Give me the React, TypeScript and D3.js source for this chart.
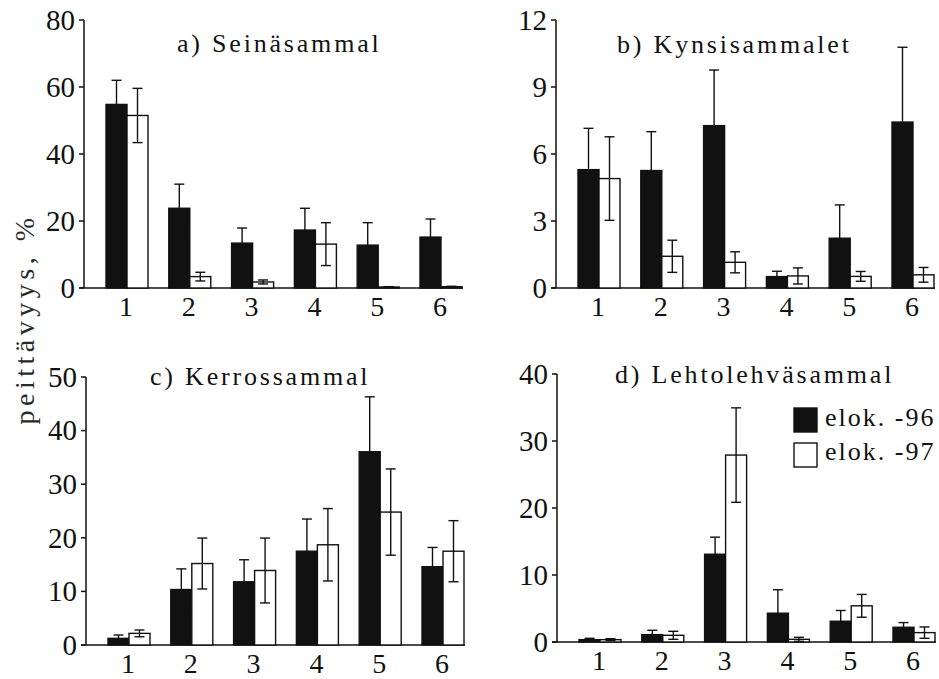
import React from "react";
import * as d3 from "d3";

const categories = ["1", "2", "3", "4", "5", "6"];
const seriesNames = ["elok. -96", "elok. -97"];

// a) Seinäsammal
const seinaTicks = [0, 20, 40, 60, 80];
const seina96 = [54.8, 23.8, 13.4, 17.3, 12.8, 15.2];
const seina96Err = [7.2, 7.2, 4.5, 6.5, 6.7, 5.4];
const seina97 = [51.5, 3.4, 1.8, 13.1, 0.3, 0.4];
const seina97Err = [8.1, 1.3, 0.6, 6.4, 0.1, 0.1];

// b) Kynsisammalet
const kynsiTicks = [0, 3, 6, 9, 12];
const kynsi96 = [5.3, 5.26, 7.27, 0.51, 2.23, 7.43];
const kynsi96Err = [1.85, 1.74, 2.49, 0.24, 1.49, 3.35];
const kynsi97 = [4.9, 1.42, 1.15, 0.54, 0.52, 0.59];
const kynsi97Err = [1.87, 0.72, 0.47, 0.36, 0.22, 0.33];

// c) Kerrossammal
const kerrosTicks = [0, 10, 20, 30, 40, 50];
const kerros96 = [1.24, 10.35, 11.8, 17.5, 36.05, 14.6];
const kerros96Err = [0.62, 3.85, 4.1, 6.0, 10.25, 3.6];
const kerros97 = [2.17, 15.2, 13.9, 18.7, 24.8, 17.5];
const kerros97Err = [0.63, 4.75, 6.05, 6.75, 8.05, 5.7];

// d) Lehtolehväsammal
const lehtoTicks = [0, 10, 20, 30, 40];
const lehto96 = [0.35, 1.1, 13.1, 4.3, 3.1, 2.2];
const lehto96Err = [0.2, 0.65, 2.55, 3.5, 1.6, 0.7];
const lehto97 = [0.35, 1.0, 27.9, 0.4, 5.4, 1.4];
const lehto97Err = [0.15, 0.6, 7.05, 0.3, 1.7, 0.85];

const titles = ["a) Seinäsammal", "b) Kynsisammalet", "c) Kerrossammal", "d) Lehtolehväsammal"];
const yLabel = "peittävyys, %";

const FONT = "Liberation Serif";
const INK = "#111";

type Panel = {
  title: string;
  ticks: number[];
  v96: number[];
  e96: number[];
  v97: number[];
  e97: number[];
  left: number;
  zeroY: number;
  titleX: number;
  titleY: number;
  legend: boolean;
};

const panels: Panel[] = [
  { title: titles[0], ticks: seinaTicks, v96: seina96, e96: seina96Err, v97: seina97, e97: seina97Err, left: 84, zeroY: 288, titleX: 177, titleY: 52, legend: false },
  { title: titles[1], ticks: kynsiTicks, v96: kynsi96, e96: kynsi96Err, v97: kynsi97, e97: kynsi97Err, left: 556, zeroY: 288, titleX: 617, titleY: 53, legend: false },
  { title: titles[2], ticks: kerrosTicks, v96: kerros96, e96: kerros96Err, v97: kerros97, e97: kerros97Err, left: 86, zeroY: 645, titleX: 150, titleY: 385, legend: false },
  { title: titles[3], ticks: lehtoTicks, v96: lehto96, e96: lehto96Err, v97: lehto97, e97: lehto97Err, left: 557, zeroY: 642, titleX: 615, titleY: 383, legend: true },
];

const PLOT_H = 268;
const FIRST_C = 43;
const LAST_C = 357;
const BAR_W = 21;
const CAP = 5;

function ErrorBar({ x, y0, y1 }: { x: number; y0: number; y1: number }) {
  return (
    <g stroke={INK} strokeWidth={1.4} fill="none">
      <line x1={x} x2={x} y1={y0} y2={y1} />
      <line x1={x - CAP} x2={x + CAP} y1={y1} y2={y1} />
      <line x1={x - CAP} x2={x + CAP} y1={y0} y2={y0} />
    </g>
  );
}

function PanelView({ p }: { p: Panel }) {
  const maxV = p.ticks[p.ticks.length - 1];
  const y = d3.scaleLinear().domain([0, maxV]).range([p.zeroY, p.zeroY - PLOT_H]);
  const x = d3.scalePoint<string>().domain(categories).range([p.left + FIRST_C, p.left + LAST_C]);
  const axisEnd = (x(categories[categories.length - 1]) as number) + BAR_W + 1;
  return (
    <g>
      <line x1={p.left} x2={p.left} y1={y(maxV)} y2={y(0)} stroke={INK} strokeWidth={1.5} />
      {p.ticks.map((t) => (
        <g key={t}>
          <line x1={p.left - 5} x2={p.left} y1={y(t)} y2={y(t)} stroke={INK} strokeWidth={1.5} />
          <text x={p.left - 9} y={y(t)} dy="0.34em" textAnchor="end" fontFamily={FONT} fontSize={29} fill={INK}>
            {t}
          </text>
        </g>
      ))}
      <line x1={p.left - 5} x2={axisEnd} y1={y(0)} y2={y(0)} stroke={INK} strokeWidth={1.5} />
      {categories.map((c) => (
        <text key={c} x={(x(c) as number) - 1} y={y(0) + 28} textAnchor="middle" fontFamily={FONT} fontSize={28} fill={INK}>
          {c}
        </text>
      ))}
      {categories.map((c, i) => {
        const cx = x(c) as number;
        const b96 = y(p.v96[i]);
        const b97 = y(p.v97[i]);
        return (
          <g key={c}>
            <rect x={cx - BAR_W} y={b96} width={BAR_W} height={y(0) - b96} fill="#111" stroke={INK} strokeWidth={1.4} />
            <rect x={cx} y={b97} width={BAR_W} height={y(0) - b97} fill="#fff" stroke={INK} strokeWidth={1.4} />
            <ErrorBar x={cx - BAR_W / 2} y0={y(Math.max(0, p.v96[i] - p.e96[i]))} y1={y(p.v96[i] + p.e96[i])} />
            <ErrorBar x={cx + BAR_W / 2} y0={y(Math.max(0, p.v97[i] - p.e97[i]))} y1={y(p.v97[i] + p.e97[i])} />
          </g>
        );
      })}
      <text x={p.titleX} y={p.titleY} fontFamily={FONT} fontSize={26} letterSpacing={2.8} fill={INK}>
        {p.title}
      </text>
      {p.legend && (
        <g>
          {seriesNames.map((s, i) => (
            <g key={s}>
              <rect x={p.left + 237} y={p.zeroY - 234 + i * 35} width={23} height={24} fill={i === 0 ? "#111" : "#fff"} stroke={INK} strokeWidth={1.4} />
              <text x={p.left + 268} y={p.zeroY - 216 + i * 34} fontFamily={FONT} fontSize={26} letterSpacing={2} fill={INK}>
                {s}
              </text>
            </g>
          ))}
        </g>
      )}
    </g>
  );
}

export default function App() {
  return (
    <svg width={939} height={679} style={{ position: "absolute", left: 0, top: 0, background: "#fff" }}>
      <rect width={939} height={679} fill="#fff" />
      {panels.map((p) => (
        <PanelView key={p.title} p={p} />
      ))}
      <text
        transform="translate(34,319) rotate(-90)"
        textAnchor="middle"
        fontFamily={FONT}
        fontSize={28}
        letterSpacing={4.5}
        fill="#2a2a2a"
      >
        {yLabel}
      </text>
    </svg>
  );
}
